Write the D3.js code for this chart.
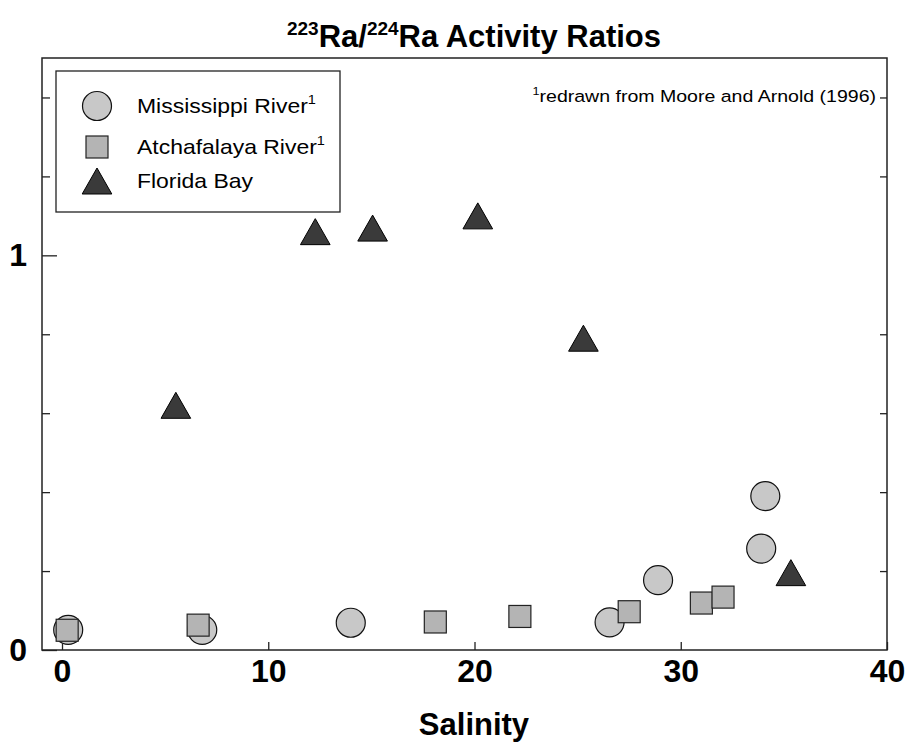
<!DOCTYPE html>
<html>
<head>
<meta charset="utf-8">
<script src="https://cdn.jsdelivr.net/npm/d3@7"></script>
<style>
  body { margin: 0; background: #fff; }
  text { font-family: "Liberation Sans", Arial, sans-serif; }
</style>
</head>
<body>
<svg id="chart" width="909" height="745"></svg>
<script>
// ---- data ----
const mississippiSalinity = [0.3, 6.8, 14.0, 26.55, 28.9, 33.9, 34.1];
const mississippiRatio    = [0.051, 0.051, 0.069, 0.070, 0.177, 0.257, 0.390];
const atchafalayaSalinity = [0.25, 6.6, 18.1, 22.2, 27.5, 31.0, 32.05];
const atchafalayaRatio    = [0.050, 0.063, 0.071, 0.085, 0.097, 0.119, 0.134];
const floridaSalinity     = [5.52, 12.28, 15.06, 20.16, 25.28, 35.34];
const floridaRatio        = [0.620, 1.060, 1.069, 1.100, 0.790, 0.196];
const xTickValues = [0, 10, 20, 30, 40];
const yTickValues = [0, 0.2, 0.4, 0.6, 0.8, 1.0, 1.2, 1.4];
const yLabelledTicks = [0, 1];
const legendNames = ["Mississippi River", "Atchafalaya River", "Florida Bay"];
const legendSup = ["1", "1", ""];

const svg = d3.select("#chart");
const L = 42, R = 887, T = 58, B = 650;
const x = d3.scaleLinear().domain([-0.97, 40]).range([L, R]);
const y = d3.scaleLinear().domain([0, 1.5]).range([B, T]);

// title
const title = svg.append("text").attr("x", 474).attr("y", 47)
  .attr("text-anchor", "middle").attr("font-weight", "bold").attr("font-size", 31);
title.append("tspan").attr("font-size", 19).attr("dy", -12).text("223");
title.append("tspan").attr("dy", 12).text("Ra/");
title.append("tspan").attr("font-size", 19).attr("dy", -12).text("224");
title.append("tspan").attr("dy", 12).text("Ra Activity Ratios");

// left axis
const gL = svg.append("g").attr("transform", `translate(${L},0)`)
  .call(d3.axisLeft(y).tickValues(yTickValues).tickSize(-8).tickPadding(16)
    .tickFormat(d => yLabelledTicks.includes(Math.round(d * 10) / 10) ? d3.format("d")(d) : ""));
gL.select(".domain").remove();
gL.selectAll(".tick line").attr("stroke", "#222").attr("stroke-width", 1.3)
  .attr("x2", d => (d === 0 || d === 1) ? 15 : 8);
gL.selectAll(".tick text").attr("font-size", 32).attr("font-weight", "bold")
  .attr("font-family", "Liberation Sans, Arial, sans-serif").attr("fill", "#000").attr("x", -15);

// right axis (inner ticks, none at 1)
const gR = svg.append("g").attr("transform", `translate(${R},0)`)
  .call(d3.axisRight(y).tickValues(yTickValues.filter(v => v !== 0 && v !== 1)).tickSize(-7).tickFormat(""));
gR.select(".domain").remove();
gR.selectAll(".tick line").attr("stroke", "#222").attr("stroke-width", 1.3);

// bottom axis
const gB = svg.append("g").attr("transform", `translate(0,${B})`)
  .call(d3.axisBottom(x).tickValues(xTickValues).tickSize(-8).tickPadding(9).tickFormat(d3.format("d")));
gB.select(".domain").remove();
gB.selectAll(".tick line").attr("stroke", "#222").attr("stroke-width", 1.3);
gB.selectAll(".tick text").attr("font-size", 32).attr("font-weight", "bold")
  .attr("font-family", "Liberation Sans, Arial, sans-serif").attr("fill", "#000");

// frame
svg.append("rect").attr("x", L).attr("y", T).attr("width", R - L).attr("height", B - T)
  .attr("fill", "none").attr("stroke", "#222").attr("stroke-width", 1.5);

// x label
svg.append("text").attr("x", 474).attr("y", 735).attr("text-anchor", "middle")
  .attr("font-weight", "bold").attr("font-size", 31).text("Salinity");

// footnote
const fn = svg.append("text").attr("transform", "translate(876,102) scale(1.15,1)")
  .attr("text-anchor", "end").attr("font-size", 17);
fn.append("tspan").attr("font-size", 11).attr("dy", -7).text("1");
fn.append("tspan").attr("dy", 7).text("redrawn from Moore and Arnold (1996)");

// symbols
const triPath = (s) => `M0,${-s*0.5}L${s*0.57},${s*0.5}L${-s*0.57},${s*0.5}Z`;

function drawCircles(xs, ys) {
  svg.append("g").selectAll("circle").data(xs.map((v, i) => [v, ys[i]])).join("circle")
    .attr("cx", d => x(d[0])).attr("cy", d => y(d[1])).attr("r", 14.5)
    .attr("fill", "#c8c8c8").attr("stroke", "#111").attr("stroke-width", 1.2);
}
function drawSquares(xs, ys) {
  svg.append("g").selectAll("rect").data(xs.map((v, i) => [v, ys[i]])).join("rect")
    .attr("x", d => x(d[0]) - 11).attr("y", d => y(d[1]) - 11).attr("width", 22).attr("height", 22)
    .attr("fill", "#b4b4b4").attr("stroke", "#222").attr("stroke-width", 1.2);
}
function drawTriangles(xs, ys) {
  svg.append("g").selectAll("path").data(xs.map((v, i) => [v, ys[i]])).join("path")
    .attr("transform", d => `translate(${x(d[0])},${y(d[1])})`).attr("d", triPath(26))
    .attr("fill", "#3a3a3a").attr("stroke", "#000").attr("stroke-width", 1);
}
drawCircles(mississippiSalinity, mississippiRatio);
drawSquares(atchafalayaSalinity, atchafalayaRatio);
drawTriangles(floridaSalinity, floridaRatio);

// legend
const lg = svg.append("g");
lg.append("rect").attr("x", 56).attr("y", 71).attr("width", 284).attr("height", 141)
  .attr("fill", "#fff").attr("stroke", "#222").attr("stroke-width", 1.3);
const ly = [106, 147, 181];
lg.append("circle").attr("cx", 97).attr("cy", ly[0]).attr("r", 14.5)
  .attr("fill", "#c8c8c8").attr("stroke", "#111").attr("stroke-width", 1.2);
lg.append("rect").attr("x", 86).attr("y", ly[1] - 11).attr("width", 22).attr("height", 22)
  .attr("fill", "#b4b4b4").attr("stroke", "#222").attr("stroke-width", 1.2);
lg.append("path").attr("transform", `translate(97,${ly[2]})`).attr("d", triPath(26))
  .attr("fill", "#3a3a3a").attr("stroke", "#000").attr("stroke-width", 1);
legendNames.forEach((n, i) => {
  const t = lg.append("text").attr("transform", `translate(137,${ly[i] + 7}) scale(1.12,1)`)
    .attr("font-size", 20.5).text(n);
  if (legendSup[i]) t.append("tspan").attr("font-size", 13).attr("dy", -9).text(legendSup[i]);
});
</script>
</body>
</html>
